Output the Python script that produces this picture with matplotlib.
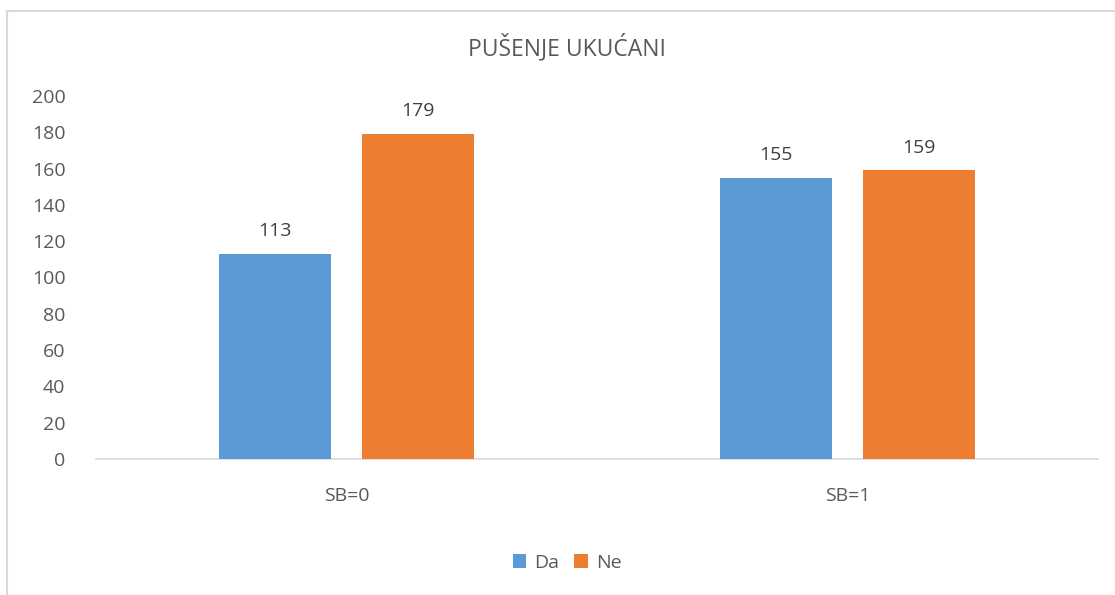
import matplotlib
matplotlib.use("Agg")
import matplotlib.pyplot as plt
from matplotlib.patches import Rectangle
import numpy as np

categories = ["SB=0", "SB=1"]
series_names = ["Da", "Ne"]
da_values = [113, 155]
ne_values = [179, 159]
yticks = [0, 20, 40, 60, 80, 100, 120, 140, 160, 180, 200]
title = "PUŠENJE UKUĆANI"

colors = ["#5B9BD5", "#ED7D31"]
text_color = "#595959"
plt.rcParams['font.family'] = ['Open Sans', 'DejaVu Sans']

W, H = 1115, 595
fig = plt.figure(figsize=(W / 100, H / 100), dpi=100)
fig.patch.set_facecolor("white")
# chart border (partially outside the image)
fig.add_artist(Rectangle((7 / W, -0.1), 1.2, (H - 11) / H + 0.1, transform=fig.transFigure,
                         fill=False, edgecolor="#D9D9D9", linewidth=1.5))

ax = fig.add_axes([96 / W, (H - 459) / H, (1098 - 96) / W, (459 - 96) / H])
x = np.arange(len(categories))
bw = 0.2235
off = bw / 2 + 0.031
for vals, name, c, o in [(da_values, series_names[0], colors[0], -off),
                         (ne_values, series_names[1], colors[1], off)]:
    bars = ax.bar(x + o, vals, bw, color=c, label=name, zorder=3)
    for b, v in zip(bars, vals):
        ax.annotate(str(v), (b.get_x() + b.get_width() / 2, v), xytext=(0, 10),
                    textcoords="offset points", ha="center", va="bottom",
                    fontsize=14, color="#404040")

ax.set_xlim(-0.5, 1.5)
ax.set_ylim(0, 200)
ax.set_yticks(yticks)
ax.set_xticks(x)
ax.set_xticklabels(categories)
ax.tick_params(axis="y", length=0, pad=22, labelsize=14, labelcolor=text_color)
ax.tick_params(axis="x", length=0, pad=20, labelsize=14, labelcolor=text_color)
for s in ["top", "right", "left"]:
    ax.spines[s].set_visible(False)
ax.spines["bottom"].set_color("#D9D9D9")
ax.spines["bottom"].set_linewidth(1.2)
ax.set_facecolor("none")

fig.text(567 / W, 1 - 48 / H, title, ha="center", va="center", fontsize=16.5, color=text_color)

leg = fig.legend(loc="center", bbox_to_anchor=(567 / W, 1 - 563 / H), ncol=2, frameon=False,
                 fontsize=14, handlelength=0.7, handleheight=0.7, handletextpad=0.4,
                 columnspacing=0.8, labelcolor=text_color)

fig.savefig("out.png", dpi=100)
